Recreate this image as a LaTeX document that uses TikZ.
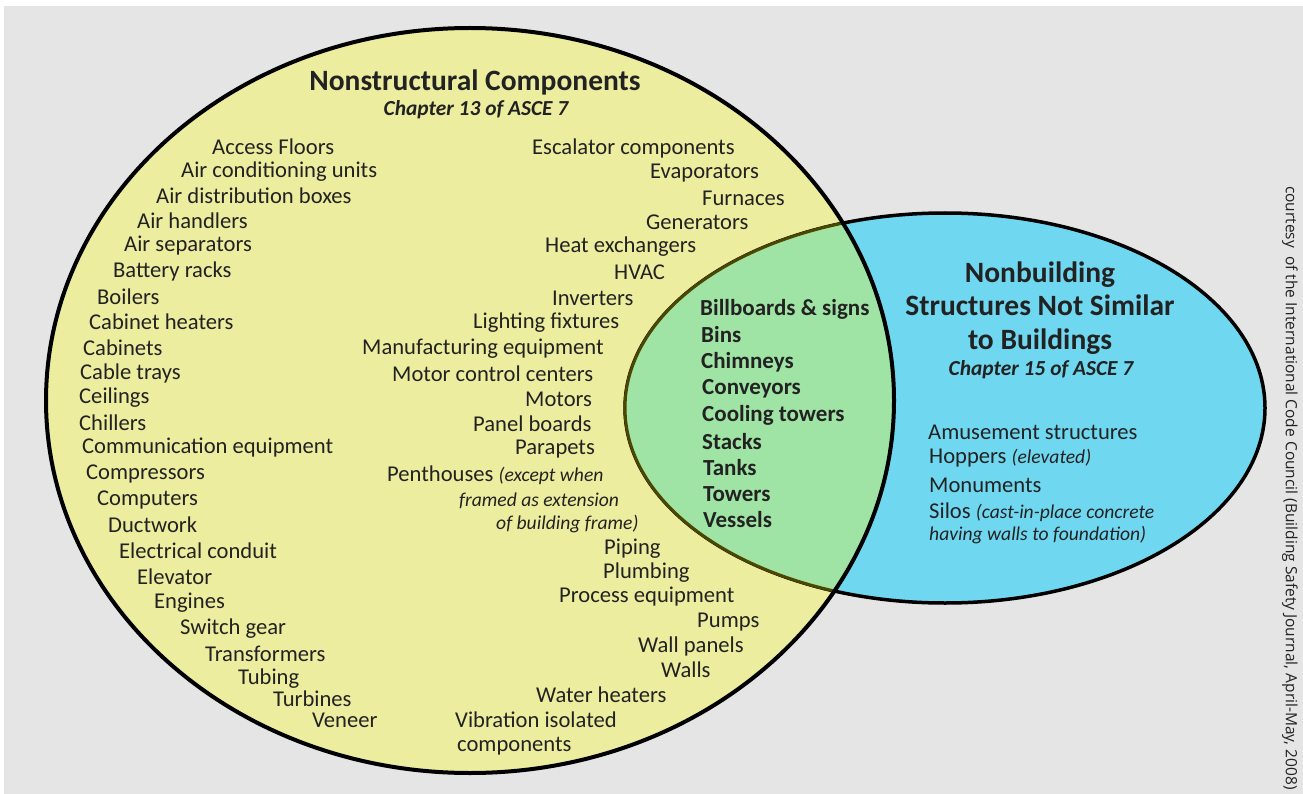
\documentclass[tikz,border=0pt]{standalone}
\usepackage{fontspec}
\setmainfont{Carlito}
\newfontfamily\creditfont{Open Sans}
\usepackage{tikz}

\definecolor{bgray}{HTML}{E5E5E5}
\definecolor{nsyellow}{HTML}{EDED9F}
\definecolor{nbblue}{HTML}{6FD8F0}
\definecolor{bothgreen}{HTML}{A0E4A5}
\definecolor{rimolive}{HTML}{4B4700}
\definecolor{inkc}{HTML}{222222}

\newcommand{\bodysize}[0] {\fontsize{22.6}{26}\selectfont}
\newcommand{\notesize}[0] {\fontsize{19.6}{22}\selectfont\itshape}

\tikzset{
    item/.style={anchor=west, inner sep=0pt, yshift=-2pt, text=inkc, font=\bodysize},
    shared/.style={item, font=\fontsize{23}{26}\selectfont\bfseries},
    note/.style={item, font=\notesize},
    heading/.style={inner sep=0pt, yshift=-2pt, text=inkc, align=center, font=\fontsize{29.5}{33.5}\selectfont\bfseries},
    chapter/.style={inner sep=0pt, yshift=-2pt, text=inkc, font=\fontsize{21.4}{24}\selectfont\bfseries\itshape}
}

\begin{document}
\begin{tikzpicture}[x=1pt, y=-1pt]
        \useasboundingbox (0,0) rectangle (1303,794);
        \fill[white] (0,0) rectangle (1303,794);
        \fill[bgray] (4,6) rectangle (1303,794);

        %the two sets
        \fill[nsyellow] (470,400.5) ellipse [x radius=424, y radius=372.5];
        \filldraw[fill=nbblue, draw=black, line width=3.5pt] (945,408) ellipse [x radius=320, y radius=195];
        \begin{scope}
            \clip (470,400.5) ellipse [x radius=424, y radius=372.5];
            \fill[bothgreen] (945,408) ellipse [x radius=320, y radius=195];
            \draw[rimolive, line width=3pt] (945,408) ellipse [x radius=320, y radius=195];
        \end{scope}
        \draw[black, line width=4pt] (470,400.5) ellipse [x radius=424, y radius=372.5];

        %nonstructural components
        \node[heading] (nstitle) at (475,80) {Nonstructural Components};
        \node[chapter] (nschap) at (476,108) {Chapter 13 of ASCE 7};

        \node[item] (accessfloors) at (212,145) {Access Floors};
        \node[item] (airconditioning) at (181,170) {Air conditioning units};
        \node[item] (airdistribution) at (156,194) {Air distribution boxes};
        \node[item] (airhandlers) at (137,219) {Air handlers};
        \node[item] (airseparators) at (124,244) {Air separators};
        \node[item] (batteryracks) at (113,269) {Battery racks};
        \node[item] (boilers) at (97,295) {Boilers};
        \node[item] (cabinetheaters) at (89,320) {Cabinet heaters};
        \node[item] (cabinets) at (83,346) {Cabinets};
        \node[item] (cabletrays) at (80,371) {Cable trays};
        \node[item] (ceilings) at (79,396) {Ceilings};
        \node[item] (chillers) at (79,421) {Chillers};
        \node[item] (communication) at (82,446) {Communication equipment};
        \node[item] (compressors) at (86,472) {Compressors};
        \node[item] (computers) at (97,498) {Computers};
        \node[item] (ductwork) at (108,523) {Ductwork};
        \node[item] (conduit) at (119,549) {Electrical conduit};
        \node[item] (elevator) at (137,575) {Elevator};
        \node[item] (engines) at (154,601) {Engines};
        \node[item] (switchgear) at (180,627) {Switch gear};
        \node[item] (transformers) at (205,652) {Transformers};
        \node[item] (tubing) at (238,677) {Tubing};
        \node[item] (turbines) at (273,697) {Turbines};
        \node[item] (veneer) at (312,718) {Veneer};

        \node[item] (escalator) at (532,146) {Escalator components};
        \node[item] (evaporators) at (650,171) {Evaporators};
        \node[item] (furnaces) at (702,196) {Furnaces};
        \node[item] (generators) at (646,220) {Generators};
        \node[item] (heatexchangers) at (545,245) {Heat exchangers};
        \node[item] (hvac) at (614,270) {HVAC};
        \node[item] (inverters) at (552,296) {Inverters};
        \node[item] (lighting) at (473,321) {Lighting fixtures};
        \node[item] (manufacturing) at (362,347) {Manufacturing equipment};
        \node[item] (motorcontrol) at (392,372) {Motor control centers};
        \node[item] (motors) at (525,397) {Motors};
        \node[item] (panelboards) at (473,422) {Panel boards};
        \node[item] (parapets) at (515,447) {Parapets};
        \node[item] (penthouses) at (387,473) {Penthouses {\notesize(except when}};
        \node[note] (framed) at (459,499) {framed as extension};
        \node[note] (buildingframe) at (496,522) {of building frame)};
        \node[item] (piping) at (604,547) {Piping};
        \node[item] (plumbing) at (603,571) {Plumbing};
        \node[item] (process) at (559,595) {Process equipment};
        \node[item] (pumps) at (697,620) {Pumps};
        \node[item] (wallpanels) at (638,644) {Wall panels};
        \node[item] (walls) at (661,668) {Walls};
        \node[item] (waterheaters) at (536,693) {Water heaters};
        \node[item] (vibration) at (455,718) {Vibration isolated};
        \node[item] (vibcomponents) at (457,744) {components};

        %both sets
        \node[shared] (billboards) at (700,307) {Billboards \& signs};
        \node[shared] (bins) at (701,333) {Bins};
        \node[shared] (chimneys) at (701,360) {Chimneys};
        \node[shared] (conveyors) at (702,387) {Conveyors};
        \node[shared] (coolingtowers) at (702,413) {Cooling towers};
        \node[shared] (stacks) at (702,440) {Stacks};
        \node[shared] (tanks) at (703,466) {Tanks};
        \node[shared] (towers) at (703,492) {Towers};
        \node[shared] (vessels) at (703,518) {Vessels};

        %nonbuilding structures
        \node[heading] (nbtitle) at (1040,306) {Nonbuilding\\Structures Not Similar\\to Buildings};
        \node[chapter] (nbchap) at (1041,368) {Chapter 15 of ASCE 7};

        \node[item] (amusement) at (928,430) {Amusement structures};
        \node[item] (hoppers) at (929,456) {Hoppers {\notesize(elevated)}};
        \node[item] (monuments) at (929,483) {Monuments};
        \node[item] (silos) at (929,510) {Silos {\notesize(cast-in-place concrete}};
        \node[note] (silowalls) at (929,533) {having walls to foundation)};

        %credit
        \node[inner sep=0pt, rotate=-90, text=inkc, font=\creditfont\fontsize{15.5}{18}\selectfont] (credit) at (1290,488) {courtesy\ \ of the International Code Council (Building Safety Journal, April-May, 2008)};
\end{tikzpicture}
\end{document}
